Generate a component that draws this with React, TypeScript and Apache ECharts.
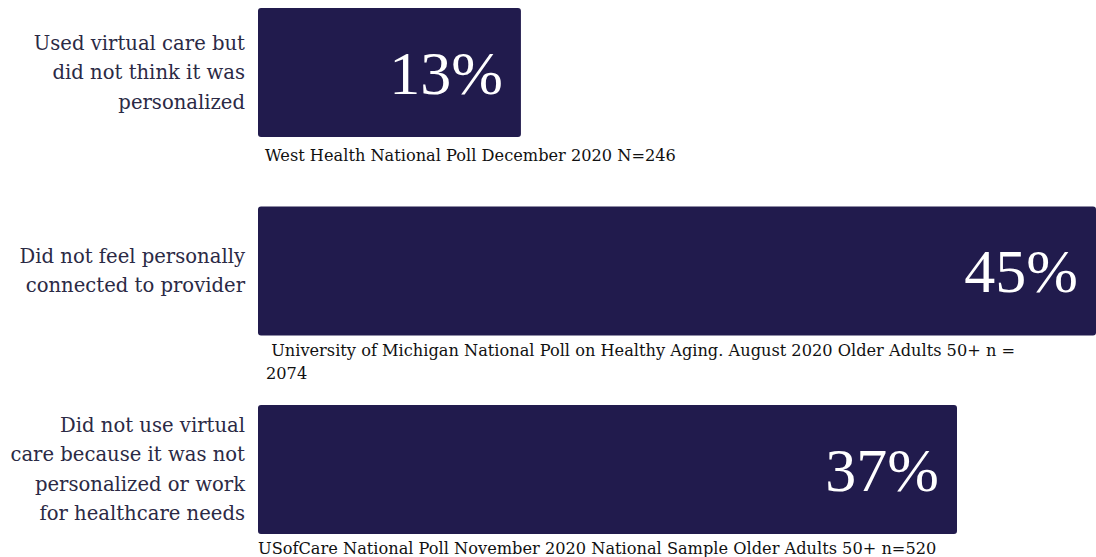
import React, { useEffect, useRef } from "react";
import * as echarts from "echarts";

const categories = [
  "Used virtual care but\ndid not think it was\npersonalized",
  "Did not feel personally\nconnected to provider",
  "Did not use virtual\ncare because it was not\npersonalized or work\nfor healthcare needs",
];
const values = [13, 45, 37];
const notes = [
  "West Health National Poll December 2020 N=246",
  " University of Michigan National Poll on Healthy Aging. August 2020 Older Adults 50+ n =\n2074",
  "USofCare National Poll November 2020 National Sample Older Adults 50+ n=520",
];

const BAR = "#211b4d";
const SERIF = "'Liberation Serif', 'Times New Roman', serif";
const LABEL_FONT = "'DejaVu Serif', Georgia, serif";

export default function App() {
  const ref = useRef<HTMLDivElement>(null);
  useEffect(() => {
    if (!ref.current) return;
    const chart = echarts.init(ref.current, null, { renderer: "svg" });
    const noteCenter = [155, 350, 548];
    const noteLeft = [265, 266, 258];
    const noteLH = [23, 23, 18];
    chart.setOption({
      animation: false,
      textStyle: { fontFamily: LABEL_FONT },
      grid: {
        left: 258,
        right: 0,
        top: -26.75,
        bottom: -11.75,
        containLabel: false,
        outerBoundsMode: "none",
      },
      xAxis: {
        type: "value",
        min: -1.47,
        max: 44.65,
        startValue: -1.47,
        show: false,
      },
      yAxis: {
        type: "category",
        inverse: true,
        data: categories,
        axisLine: { show: false },
        axisTick: { show: false },
        splitLine: { show: false },
        axisLabel: {
          margin: 13,
          fontFamily: LABEL_FONT,
          fontSize: 19.6,
          lineHeight: 29.5,
          color: "#2b2a45",
          align: "right",
        },
      },
      series: [
        {
          type: "bar",
          data: values,
          barWidth: 129,
          itemStyle: { color: BAR, borderRadius: 3 },
          label: {
            show: true,
            position: "insideRight",
            distance: 18,
            formatter: "{c}%",
            color: "#ffffff",
            fontFamily: SERIF,
            fontSize: 62,
          },
        },
      ],
      graphic: notes.map((t, i) => ({
        type: "text",
        left: noteLeft[i],
        top: noteCenter[i] - noteLH[i] / 2,
        style: {
          text: t,
          fontFamily: LABEL_FONT,
          fontSize: 16.2,
          lineHeight: noteLH[i],
          fill: "#111111",
        },
      })),
    });
    return () => chart.dispose();
  }, []);
  return (
    <div
      ref={ref}
      style={{ position: "fixed", left: 0, top: 0, width: 1096, height: 557, background: "#ffffff" }}
    />
  );
}
